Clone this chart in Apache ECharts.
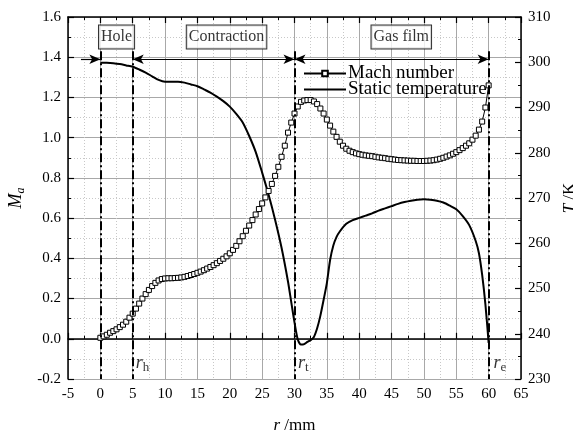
<!DOCTYPE html>
<html><head><meta charset="utf-8">
<script src="https://cdn.jsdelivr.net/npm/echarts@6/dist/echarts.min.js"></script>
<style>html,body{margin:0;padding:0;background:#fff}#c{width:573px;height:435px}</style>
</head><body><div id="c"></div>
<script>
var xTicks = [-5, 65, 5];
var machR = [0,0.5,1,1.5,2,2.5,3,3.5,4,4.5,5,5.5,6,6.5,7,7.5,8,8.5,9,9.5,10,10.5,11,11.5,12,12.5,13,13.5,14,14.5,15,15.5,16,16.5,17,17.5,18,18.5,19,19.5,20,20.5,21,21.5,22,22.5,23,23.5,24,24.5,25,25.5,26,26.5,27,27.5,28,28.5,29,29.5,30,30.5,31,31.5,32,32.5,33,33.5,34,34.5,35,35.5,36,36.5,37,37.5,38,38.5,39,39.5,40,40.5,41,41.5,42,42.5,43,43.5,44,44.5,45,45.5,46,46.5,47,47.5,48,48.5,49,49.5,50,50.5,51,51.5,52,52.5,53,53.5,54,54.5,55,55.5,56,56.5,57,57.5,58,58.5,59,59.5,60];
var machVal = [0.005,0.012,0.02,0.03,0.038,0.047,0.058,0.07,0.085,0.105,0.125,0.15,0.175,0.2,0.222,0.243,0.262,0.278,0.29,0.297,0.3,0.301,0.301,0.302,0.303,0.305,0.308,0.312,0.317,0.322,0.328,0.334,0.341,0.349,0.357,0.366,0.376,0.387,0.398,0.41,0.425,0.442,0.462,0.485,0.51,0.537,0.563,0.59,0.618,0.645,0.673,0.703,0.735,0.77,0.81,0.855,0.905,0.96,1.025,1.075,1.12,1.155,1.178,1.185,1.187,1.187,1.18,1.167,1.145,1.12,1.09,1.06,1.03,1.004,0.98,0.96,0.945,0.935,0.928,0.922,0.918,0.915,0.912,0.91,0.908,0.905,0.902,0.9,0.898,0.895,0.893,0.891,0.889,0.888,0.887,0.886,0.885,0.885,0.884,0.884,0.884,0.885,0.886,0.888,0.891,0.895,0.9,0.906,0.912,0.92,0.928,0.938,0.948,0.96,0.972,0.99,1.01,1.04,1.08,1.15,1.26];
var tempR = [0,1,2,3,4,5,6,7,8,9,10,11,12,13,14,15,16,17,18,19,20,21,22,23,24,25,26,27,28,29,29.5,30,30.5,31,31.5,32,32.5,33,33.5,34,34.5,35,35.5,36,36.5,37,38,39,40,41,42,43,44,45,46,47,48,49,50,51,52,53,54,55,56,57,58,58.5,59,59.5,60];
var tempVal = [299.9,299.9,299.8,299.6,299.3,299.0,298.4,297.7,296.9,296.1,295.7,295.7,295.7,295.5,295.1,294.7,294.0,293.3,292.4,291.4,290.2,288.6,286.7,283.7,280.2,275.6,270.7,265.2,259.0,251.5,247,242.5,238.8,237.6,237.7,238.2,238.6,239.3,241.2,244,247.5,251.2,256.3,259.5,261.4,262.6,264.3,265.1,265.6,266.1,266.6,267.2,267.7,268.2,268.7,269.1,269.4,269.6,269.7,269.6,269.4,269.0,268.3,267.5,266.0,264.0,260.5,257.8,253.0,246.5,238];
var zoneNames = ['Hole','Contraction','Gas film'];
var zoneX = [2.5, 19.5, 46.5];
var zoneY = 1.5;
var boundaryX = [0, 5, 30, 60];
var boundaryNames = ['h','t','e'];
var boundaryLabelX = [5.45, 30.55, 60.75];
var seriesNames = ['Mach number','Static temperature'];

var FONT = 'Liberation Serif';
function zip(a,b){return a.map(function(v,i){return [v,b[i]];});}

var dashLines = boundaryX.map(function(x){
  return [{coord:[x,1.43],symbol:'none'},{coord:[x,-0.2],symbol:'none'}];
});
var arrowY = 1.39;
var arrowStyle = {color:'#000',width:1.2,type:'solid'};
var arrows = [
  [{coord:[-3,arrowY],symbol:'none'},{coord:[0,arrowY],symbol:'arrow'}],
  [{coord:[5,arrowY],symbol:'arrow'},{coord:[30,arrowY],symbol:'arrow'}],
  [{coord:[30,arrowY],symbol:'arrow'},{coord:[60,arrowY],symbol:'arrow'}]
].map(function(p){p[0].lineStyle=arrowStyle;return p;});

var chart = echarts.init(document.getElementById('c'));
var axisLineStyle = {color:'#000', width:1.5};
chart.setOption({
  animation:false,
  backgroundColor:'#fff',
  textStyle:{fontFamily:FONT},
  grid:{left:68,right:52,top:17,bottom:56,containLabel:false,outerBoundsMode:'none'},
  legend:{
    data:[{name:seriesNames[0]},{name:seriesNames[1],itemStyle:{opacity:0}}],
    orient:'vertical', left:298, top:59, itemGap:-3,
    itemWidth:42, itemHeight:7,
    textStyle:{fontFamily:FONT,fontSize:19,color:'#000',padding:[0,0,0,-3]}
  },
  xAxis:[{
    type:'value', min:xTicks[0], max:xTicks[1], interval:xTicks[2], position:'bottom',
    name:'{i|r} /mm', nameLocation:'middle', nameGap:38,
    nameTextStyle:{fontFamily:FONT,fontSize:17,color:'#000',rich:{i:{fontFamily:FONT,fontSize:17,fontStyle:'italic',color:'#000'}}},
    axisLine:{show:true,lineStyle:axisLineStyle},
    axisTick:{show:true,inside:true,length:6,lineStyle:{color:'#000',width:1.2}},
    minorTick:{show:true,splitNumber:2,length:3,lineStyle:{color:'#000',width:1}},
    axisLabel:{fontFamily:FONT,fontSize:15,color:'#000',margin:8},
    splitLine:{show:true,lineStyle:{color:'#a8a8a8',width:1}},
    minorSplitLine:{show:true,lineStyle:{color:'#c8c8c8',width:1,type:[1,2]}}
  },{
    type:'value', min:xTicks[0], max:xTicks[1], interval:xTicks[2], position:'top',
    axisLine:{show:true,onZero:false,lineStyle:axisLineStyle},
    axisTick:{show:true,inside:true,length:6,lineStyle:{color:'#000',width:1.2}},
    minorTick:{show:true,splitNumber:2,length:3,lineStyle:{color:'#000',width:1}},
    axisLabel:{show:false}, splitLine:{show:false}
  }],
  yAxis:[{
    type:'value', min:-0.2, max:1.6, interval:0.2, position:'left',
    name:'{i|M}{s|a}', nameLocation:'middle', nameGap:38, nameRotate:90,
    nameTextStyle:{fontFamily:FONT,fontSize:17,color:'#000',
      rich:{i:{fontFamily:FONT,fontSize:18,fontStyle:'italic',color:'#000'},
            s:{fontFamily:FONT,fontSize:12,fontStyle:'italic',color:'#000',verticalAlign:'bottom',padding:[8,0,0,0]}}},
    axisLine:{show:true,onZero:false,lineStyle:axisLineStyle},
    axisTick:{show:true,inside:true,length:6,lineStyle:{color:'#000',width:1.2}},
    minorTick:{show:true,splitNumber:2,length:3,lineStyle:{color:'#000',width:1}},
    axisLabel:{fontFamily:FONT,fontSize:15,color:'#000',margin:7,formatter:function(v){return v.toFixed(1);}},
    splitLine:{show:true,lineStyle:{color:'#a8a8a8',width:1}},
    minorSplitLine:{show:true,lineStyle:{color:'#c8c8c8',width:1,type:[1,2]}}
  },{
    type:'value', min:230, max:310, interval:10, position:'right',
    name:'{i|T} /K', nameLocation:'middle', nameGap:35, nameRotate:90,
    nameTextStyle:{fontFamily:FONT,fontSize:17,color:'#000',rich:{i:{fontFamily:FONT,fontSize:17,fontStyle:'italic',color:'#000'}}},
    axisLine:{show:true,onZero:false,lineStyle:axisLineStyle},
    axisTick:{show:true,inside:true,length:6,lineStyle:{color:'#000',width:1.2}},
    minorTick:{show:true,splitNumber:2,length:3,lineStyle:{color:'#000',width:1}},
    axisLabel:{fontFamily:FONT,fontSize:15,color:'#000',margin:7},
    splitLine:{show:false}
  }],
  series:[{
    name:seriesNames[0], type:'line', xAxisIndex:0, yAxisIndex:0,
    data:zip(machR,machVal),
    symbol:'rect', symbolSize:5, showAllSymbol:true,
    itemStyle:{color:'#fff',borderColor:'#000',borderWidth:1},
    lineStyle:{color:'#000',width:1},
    z:4,
    markLine:{silent:true, symbol:'none', animation:false, label:{show:false},
      symbolSize:[7,11],
      lineStyle:{color:'#000',width:2,type:[9,3,2,3]},
      data:dashLines.concat(arrows)}
  },{
    name:seriesNames[1], type:'line', xAxisIndex:0, yAxisIndex:1,
    data:zip(tempR,tempVal), symbol:'none', smooth:0.25,
    lineStyle:{color:'#000',width:2}, itemStyle:{color:'#000'}, z:3
  },{
    name:'zones', type:'scatter', xAxisIndex:0, yAxisIndex:0, symbolSize:0, silent:true, z:6,
    data:zoneX.map(function(x,i){return {value:[x,zoneY],label:{formatter:zoneNames[i]}};}),
    label:{show:true,position:'inside',fontFamily:FONT,fontSize:16,color:'#000',
      backgroundColor:'#fff',borderColor:'#000',borderWidth:1,padding:[4,2,3,2]}
  },{
    name:'bounds', type:'scatter', xAxisIndex:0, yAxisIndex:0, symbolSize:0, silent:true, z:6,
    data:boundaryLabelX.map(function(x,i){return {value:[x,-0.12],label:{formatter:'{i|r}{s|'+boundaryNames[i]+'}'}};}),
    label:{show:true,position:'right',distance:0,
      rich:{i:{fontFamily:FONT,fontSize:18,fontStyle:'italic',color:'#000'},
            s:{fontFamily:FONT,fontSize:13,color:'#000',verticalAlign:'bottom',padding:[10,0,0,0]}}}
  }]
});
</script></body></html>
